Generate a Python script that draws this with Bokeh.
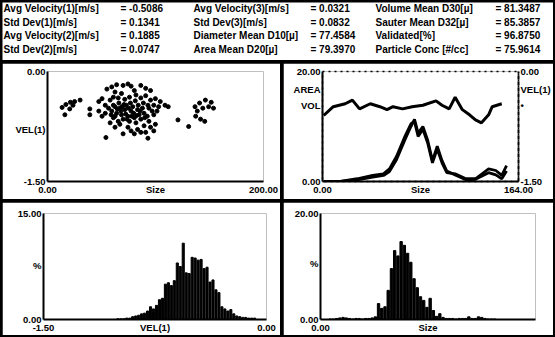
from bokeh.plotting import figure
from bokeh.models import Range1d, LinearAxis, FixedTicker, Label
from bokeh.layouts import column, row
from bokeh.embed import file_html
from bokeh.resources import INLINE
from bokeh.core.properties import value

FONT = "Liberation Sans"

# ---------------- header statistics ----------------
hdr_labels_1 = ["Avg Velocity(1)[m/s]", "Std Dev(1)[m/s]", "Avg Velocity(2)[m/s]", "Std Dev(2)[m/s]"]
hdr_values_1 = ["= -0.5086", "= 0.1341", "= 0.1885", "= 0.0747"]
hdr_labels_2 = ["Avg Velocity(3)[m/s]", "Std Dev(3)[m/s]", "Diameter Mean D10[µ]", "Area Mean D20[µ]"]
hdr_values_2 = ["= 0.0321", "= 0.0832", "= 77.4584", "= 79.3970"]
hdr_labels_3 = ["Volume Mean D30[µ]", "Sauter Mean D32[µ]", "Validated[%]", "Particle Conc [#/cc]"]
hdr_values_3 = ["= 81.3487", "= 85.3857", "= 96.8750", "= 75.9614"]

# ---------------- scatter: size vs VEL(1) ----------------
scatter_size = [55.0, 59.5, 64.0, 70.0, 74.5, 77.4, 86.4, 90.9, 95.4, 80.4, 62.5, 68.5,
                47.5, 50.5, 53.5, 58.0, 61.0, 65.5, 71.5, 75.9, 81.9, 86.4, 90.9, 95.4, 99.9, 104.4, 108.8, 111.8, 102.9, 98.4,
                56.5, 59.5, 62.5, 64.0, 67.0, 68.5, 71.5, 73.0, 74.5, 77.4, 78.9, 80.4, 83.4, 84.9, 87.9, 89.4, 92.4, 93.9, 96.9,
                61.0, 65.5, 70.0, 75.9, 81.9, 86.4, 53.5, 50.5, 47.5, 58.0, 62.5, 66.1, 70.9, 75.0, 79.8, 84.0, 88.8, 93.0,
                67.9, 72.4, 76.8, 81.3, 85.8, 90.0, 64.6, 69.1, 73.6, 78.0, 82.5, 61.0, 58.9, 93.9, 98.4, 101.4,
                74.5, 77.4, 83.4, 89.4, 95.4, 99.9, 80.4, 86.4, 62.5, 70.0, 90.9, 98.4, 67.0,
                120.8, 130.7, 54.1, 93.0, 39.2, 39.2,
                13.5, 17.0, 21.2, 25.1, 30.2, 16.1, 20.6, 23.6,
                136.6, 138.7, 140.8, 143.8, 146.2, 149.2, 151.6, 153.7, 137.2, 141.7, 145.6]
scatter_vel = [-0.24, -0.21, -0.18, -0.19, -0.17, -0.20, -0.19, -0.23, -0.26, -0.26, -0.28, -0.30,
               -0.41, -0.37, -0.46, -0.39, -0.35, -0.36, -0.38, -0.35, -0.32, -0.36, -0.33, -0.39, -0.37, -0.41, -0.46, -0.48, -0.48, -0.46,
               -0.50, -0.54, -0.48, -0.57, -0.50, -0.59, -0.52, -0.46, -0.61, -0.54, -0.48, -0.63, -0.52, -0.59, -0.50, -0.57, -0.61, -0.50, -0.54,
               -0.63, -0.68, -0.65, -0.68, -0.70, -0.65, -0.57, -0.61, -0.54, -0.70, -0.61, -0.43, -0.45, -0.50, -0.57, -0.46, -0.43, -0.46,
               -0.54, -0.58, -0.43, -0.40, -0.54, -0.63, -0.51, -0.48, -0.65, -0.61, -0.60, -0.46, -0.59, -0.68, -0.59, -0.54,
               -0.76, -0.81, -0.79, -0.74, -0.76, -0.72, -0.85, -0.83, -0.76, -0.85, -0.83, -0.81, -0.72,
               -0.66, -0.75, -0.90, -0.91, -0.59, -0.51,
               -0.49, -0.45, -0.42, -0.41, -0.39, -0.59, -0.51, -0.46,
               -0.48, -0.54, -0.43, -0.50, -0.39, -0.48, -0.42, -0.50, -0.61, -0.65, -0.68]

# ---------------- distributions vs size ----------------
dist_size = [1, 15, 29, 42, 51, 56, 62, 69, 74, 77, 80, 84, 88, 92, 96, 100, 104, 111, 120, 128, 139, 145, 150, 154]
dist_area = [0, 0, 0.5, 1.1, 1.4, 2.3, 4.6, 8.2, 10.5, 10.9, 8.2, 9.5, 7.0, 3.4, 5.9, 3.4, 1.6, 1.4, 0.5, 0.5, 2.3, 2.0, 1.1, 2.9]
dist_vol = [0, 0, 0.3, 0.8, 1.1, 1.8, 4.0, 7.6, 10.0, 11.3, 8.8, 10.0, 7.5, 3.8, 6.4, 3.8, 1.9, 1.2, 0.3, 0.4, 1.6, 1.2, 0.5, 1.9]
vel_size = [1, 9, 19, 25, 31, 40, 48, 54, 59, 67, 75, 84, 95, 100, 106, 111, 117, 123, 128, 133, 139, 142, 150]
vel_mean = [-0.60, -0.48, -0.44, -0.39, -0.51, -0.44, -0.48, -0.52, -0.48, -0.51, -0.48, -0.46, -0.40,
            -0.46, -0.51, -0.35, -0.52, -0.59, -0.66, -0.70, -0.59, -0.48, -0.44]

# ---------------- histogram of VEL(1) ----------------
vel_bins = [-1.00, -0.98, -0.96, -0.94, -0.92, -0.90, -0.88, -0.86, -0.84, -0.82, -0.80, -0.78, -0.76, -0.74,
            -0.72, -0.70, -0.68, -0.66, -0.64, -0.62, -0.60, -0.58, -0.56, -0.54, -0.52, -0.50, -0.48,
            -0.46, -0.44, -0.42, -0.40, -0.38, -0.36, -0.34, -0.32, -0.30, -0.28, -0.26, -0.24, -0.22,
            -0.20, -0.18, -0.16, -0.14, -0.12, -0.10, -0.08]
vel_pct = [0.1, 0.1, 0.1, 0.2, 0.2, 0.4, 0.5, 0.6, 0.8, 0.9, 1.2, 1.8, 1.5, 2.0,
           2.8, 3.0, 5.0, 5.2, 4.8, 5.5, 8.0, 7.5, 10.8, 6.6, 6.5, 8.8, 8.7,
           8.4, 8.5, 7.2, 7.4, 5.3, 5.6, 4.2, 3.8, 1.8, 1.5, 1.2, 1.4, 0.8,
           0.5, 0.4, 0.3, 0.3, 0.2, 0.2, 0.2]

# ---------------- histogram of size ----------------
size_bins = [9, 12, 15, 18, 21, 24, 27, 30, 33, 36, 39, 42, 45, 48, 51, 54, 57, 60, 63, 66, 69, 72, 75, 78,
             81, 84, 87, 90, 93, 96, 99, 102, 105, 108, 111, 114, 117, 120, 123, 126, 129, 132, 135,
             138, 141, 144, 147, 150, 153, 156, 159, 162]
size_pct = [0.1, 0.1, 0.2, 0.3, 0.4, 0.3, 0.2, 0.1, 0.2, 0.2, 0.1, 0.2, 0.2, 0.3, 0.5, 3.0, 2.1, 2.4, 5.5, 9.6,
            13.0, 12.0, 14.7, 14.0, 12.5, 10.8, 7.7, 6.0, 4.3, 3.6, 2.3, 4.0, 1.7, 0.6, 1.1, 0.4,
            0.2, 0.2, 0.2, 0.1, 0.2, 0.2, 0.2, 0.5, 0.2, 0.2, 0.5, 0.4, 0.2, 0.1, 0.1, 0.1]

# ---------------- axis tick texts ----------------
tl_x_ticks, tl_x_labels = [0, 100, 200], ["0.00", "Size", "200.00"]
tl_y_ticks, tl_y_labels = [-1.5, -0.79, 0], ["-1.50", "VEL(1)", "0.00"]
tr_x_ticks, tr_x_labels = [0, 82, 164], ["0.00", "Size", "164.00"]
tr_y_ticks, tr_y_labels = [0, 15.3, 20], ["0.00", "AREA\nVOL", "20.00"]
tr_v_ticks, tr_v_labels = [-1.5, -0.36, 0], ["-1.50", "VEL(1)\n\u2022", "0.00"]
bl_x_ticks, bl_x_labels = [-1.5, -0.75, 0], ["-1.50", "VEL(1)", "0.00"]
bl_y_ticks, bl_y_labels = [0, 7.7, 15], ["0.00", "%", "15.00"]
br_x_ticks, br_x_labels = [0, 100], ["0.00", "Size"]
br_x_end, br_x_end_label = 200, "200.00"
br_y_ticks, br_y_labels = [0, 10.6, 20], ["0.00", "%", "20.00"]


def style_axis(ax, ticks, labels, dash="solid"):
    ax.ticker = FixedTicker(ticks=ticks)
    ax.major_label_overrides = {t: l for t, l in zip(ticks, labels)}
    ax.major_tick_line_color = None
    ax.minor_tick_line_color = None
    ax.major_tick_out = 0
    ax.major_tick_in = 0
    ax.axis_line_width = 2
    ax.axis_line_color = "black"
    ax.axis_line_dash = dash
    ax.major_label_text_font = FONT
    ax.major_label_text_font_size = "9.5px"
    ax.major_label_text_font_style = "bold"
    ax.major_label_text_color = "black"
    ax.major_label_text_line_height = 1.45
    ax.major_label_standoff = 2


def panel(w, h, bl, br, bt, bb, xr, yr):
    p = figure(width=w, height=h, x_range=Range1d(*xr), y_range=Range1d(*yr),
               output_backend="svg", toolbar_location=None,
               min_border_left=bl, min_border_right=br, min_border_top=bt, min_border_bottom=bb)
    p.grid.visible = False
    p.outline_line_color = None
    p.background_fill_color = "white"
    p.border_fill_color = "white"
    return p


# header
hdr = figure(width=551, height=58, x_range=Range1d(0, 551), y_range=Range1d(58, 0),
             output_backend="svg", toolbar_location=None,
             min_border_left=0, min_border_right=0, min_border_top=0, min_border_bottom=0)
hdr.axis.visible = False
hdr.grid.visible = False
hdr.outline_line_color = None
row_y = [6, 19.5, 33, 46.5]
for cx, texts in zip([1, 118, 191, 308, 373, 493],
                     [hdr_labels_1, hdr_values_1, hdr_labels_2, hdr_values_2, hdr_labels_3, hdr_values_3]):
    hdr.text(x=[cx] * len(texts), y=row_y, text=texts, text_font=value(FONT), text_font_size="10px",
             text_font_style="bold", text_color="black", text_baseline="middle", text_align="left")

# top-left scatter
tl = panel(278, 136, 45, 17, 3, 18, (0, 200), (-1.5, 0))
tl.scatter(scatter_size, scatter_vel, size=4, color="black")
style_axis(tl.xaxis[0], tl_x_ticks, tl_x_labels)
style_axis(tl.yaxis[0], tl_y_ticks, tl_y_labels)

# top-right distributions
tr = panel(270, 136, 39, 33, 8, 18, (0, 164), (0, 20))
tr.extra_y_ranges = {"vel": Range1d(-1.5, 0)}
tr.line(dist_size, dist_area, line_width=2.8, color="black")
tr.line(dist_size, dist_vol, line_width=2.8, color="black")
tr.line(vel_size, vel_mean, line_width=3, color="black", y_range_name="vel")
tr.outline_line_color = "black"
tr.outline_line_width = 1.5
tr.outline_line_dash = "2 4"
style_axis(tr.xaxis[0], tr_x_ticks, tr_x_labels)
style_axis(tr.yaxis[0], tr_y_ticks, tr_y_labels)
rax = LinearAxis(y_range_name="vel")
style_axis(rax, tr_v_ticks, tr_v_labels, dash="4 2")
tr.add_layout(rax, "right")

# bottom-left histogram VEL(1)
bl = panel(278, 133, 41, 14, 11, 15, (-1.5, 0), (0, 15))
bl.vbar(x=vel_bins, top=vel_pct, width=0.014, color="black")
style_axis(bl.xaxis[0], bl_x_ticks, bl_x_labels)
style_axis(bl.yaxis[0], bl_y_ticks, bl_y_labels)

# bottom-right histogram size
br = panel(270, 133, 37, 18, 11, 16, (0, 200), (0, 20))
br.vbar(x=size_bins, top=size_pct, width=2.2, color="black")
style_axis(br.xaxis[0], br_x_ticks, br_x_labels)
style_axis(br.yaxis[0], br_y_ticks, br_y_labels)
br.add_layout(Label(x=br_x_end, y=0, x_units="data", y_units="data", y_offset=-3,
                    text=br_x_end_label, text_align="center", text_baseline="top",
                    text_font=FONT, text_font_size="9.5px", text_font_style="bold",
                    text_color="black"))

layout = column(hdr, row(tl, tr, spacing=3), row(bl, br, spacing=3), spacing=3,
                styles={"background-color": "black", "padding": "2px"})

open("out.html", "w").write(file_html(layout, INLINE))
